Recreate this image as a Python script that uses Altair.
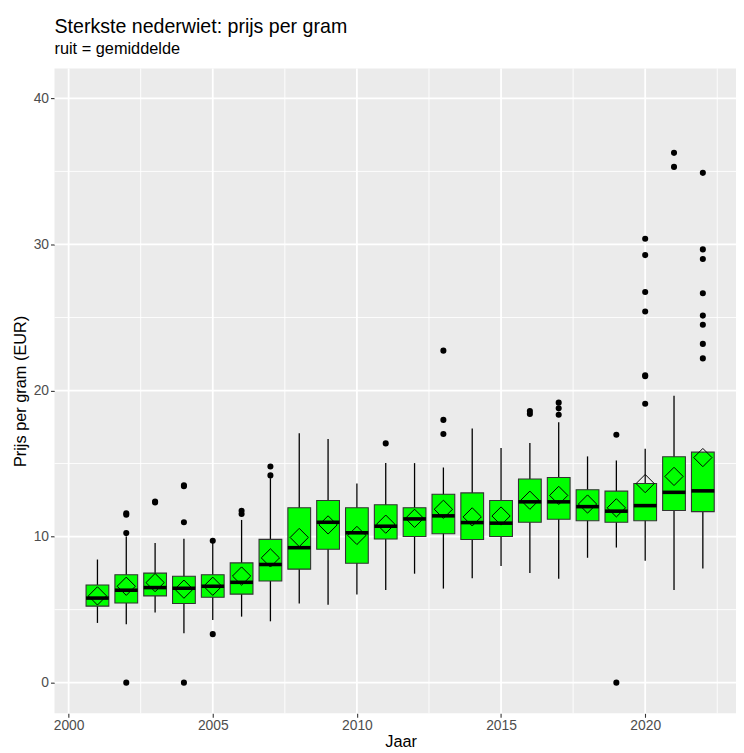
import altair as alt
import pandas as pd

# ---- data ----
years = list(range(2001, 2023))
whisker_low = [4.09, 4.00, 4.81, 3.39, 4.29, 4.52, 4.20, 5.42, 5.33, 6.03, 6.35,
               7.46, 6.44, 7.15, 7.98, 7.51, 7.12, 8.55, 9.25, 8.34, 6.35, 7.82]
q1 = [5.24, 5.45, 5.94, 5.42, 5.85, 6.06, 6.96, 7.77, 9.13, 8.18, 9.83,
      10.01, 10.20, 9.80, 10.01, 10.98, 11.19, 11.09, 10.98, 11.09, 11.79, 11.71]
median = [5.79, 6.33, 6.51, 6.46, 6.60, 6.87, 8.09, 9.24, 10.98, 10.26, 10.71,
          11.21, 11.42, 10.96, 10.92, 12.38, 12.38, 12.05, 11.74, 12.12, 13.03, 13.13]
q3 = [6.69, 7.39, 7.50, 7.28, 7.39, 8.20, 9.81, 11.98, 12.47, 11.98, 12.18,
      11.98, 12.90, 12.99, 12.47, 13.94, 14.04, 13.21, 13.11, 13.63, 15.47, 15.78]
whisker_high = [8.43, 10.0, 9.56, 9.85, 9.60, 11.14, 14.0, 17.08, 16.68, 13.63, 15.03,
                15.03, 14.73, 17.40, 16.07, 16.40, 17.82, 15.49, 15.21, 16.01, 19.64, 15.78]
mean = [5.94, 6.60, 6.85, 6.40, 6.60, 7.30, 8.54, 9.94, 10.80, 10.08, 10.85,
        11.25, 11.87, 11.35, 11.41, 12.49, 12.82, 12.23, 11.97, 13.63, 14.12, 15.41]

outlier_years = [2002, 2002, 2002, 2002,
                 2003, 2003,
                 2004, 2004, 2004, 2004,
                 2005, 2005,
                 2006, 2006,
                 2007, 2007,
                 2011,
                 2013, 2013, 2013,
                 2016, 2016,
                 2017, 2017, 2017,
                 2019, 2019,
                 2020, 2020, 2020, 2020, 2020, 2020, 2020,
                 2021, 2021,
                 2022, 2022, 2022, 2022, 2022, 2022, 2022, 2022]
outlier_values = [0.0, 10.24, 11.50, 11.60,
                  12.34, 12.40,
                  0.0, 10.98, 13.45, 13.51,
                  3.32, 9.72,
                  11.55, 11.77,
                  14.19, 14.80,
                  16.38,
                  17.02, 17.99, 22.73,
                  18.40, 18.60,
                  18.34, 18.78, 19.17,
                  0.0, 16.97,
                  19.09, 20.98, 21.05, 25.41, 26.74, 29.27, 30.39,
                  35.31, 36.27,
                  22.20, 23.19, 24.50, 25.13, 26.66, 29.00, 29.66, 34.90]

major_x = [2000, 2005, 2010, 2015, 2020]
minor_x = [2002.5, 2007.5, 2012.5, 2017.5, 2022.5]
major_y = [0, 10, 20, 30, 40]
minor_y = [5, 15, 25, 35]

# ---- tables ----
box_df = pd.DataFrame({
    "year": years, "lo": whisker_low, "q1": q1, "med": median,
    "q3": q3, "hi": whisker_high, "mean": mean,
})
out_df = pd.DataFrame({"year": outlier_years, "value": outlier_values})
gx_major = pd.DataFrame({"v": major_x})
gx_minor = pd.DataFrame({"v": minor_x})
gy_major = pd.DataFrame({"v": major_y})
gy_minor = pd.DataFrame({"v": minor_y})

FONT = "Liberation Sans"
xscale = alt.Scale(domain=[1999.51, 2023.15], nice=False, zero=False, padding=0)
yscale = alt.Scale(domain=[-2.1, 42.05], nice=False, zero=False, padding=0)

x_axis = alt.Axis(values=major_x, format="d", title="Jaar", grid=False,
                  titleX=350, titleY=34, titleBaseline="alphabetic",
                  titleAnchor="middle", labelPadding=1)
y_axis = alt.Axis(values=major_y, format="d", title="Prijs per gram (EUR)", grid=False,
                  titlePadding=5, labelPadding=2)


def X(field):
    return alt.X(field, scale=xscale, axis=x_axis)


def Y(field):
    return alt.Y(field, scale=yscale, axis=y_axis)


grid_minor_x = alt.Chart(gx_minor).mark_rule(color="white", strokeWidth=0.9).encode(x=X("v:Q"))
grid_minor_y = alt.Chart(gy_minor).mark_rule(color="white", strokeWidth=0.9).encode(y=Y("v:Q"))
grid_major_x = alt.Chart(gx_major).mark_rule(color="white", strokeWidth=1.8).encode(x=X("v:Q"))
grid_major_y = alt.Chart(gy_major).mark_rule(color="white", strokeWidth=1.8).encode(y=Y("v:Q"))

base = alt.Chart(box_df)

whiskers = base.mark_rule(color="black", strokeWidth=1.3).encode(
    x=X("year:Q"), y=Y("lo:Q"), y2="hi:Q")
boxes = base.mark_bar(size=23, fill="#00FF00", stroke="#333333", strokeWidth=1.1).encode(
    x=X("year:Q"), y=Y("q1:Q"), y2="q3:Q")
medians = base.mark_tick(orient="horizontal", size=23, thickness=3.6, color="black",
                         opacity=1).encode(x=X("year:Q"), y=Y("med:Q"))
means = base.mark_point(shape="diamond", size=340, filled=False, color="black",
                        strokeWidth=1.0, opacity=1).encode(x=X("year:Q"), y=Y("mean:Q"))
outliers = alt.Chart(out_df).mark_circle(size=38, color="black", opacity=1).encode(
    x=X("year:Q"), y=Y("value:Q"))

chart = alt.layer(
    grid_minor_x, grid_minor_y, grid_major_x, grid_major_y,
    whiskers, boxes, medians, means, outliers,
).properties(
    width=689,
    height=652,
    autosize=alt.AutoSizeParams(type="none"),
    padding={"left": 47, "top": 57, "right": 0, "bottom": 36},
    title=alt.TitleParams(
        text="Sterkste nederwiet: prijs per gram",
        subtitle="ruit = gemiddelde",
        anchor="start", frame="group",
        font=FONT, fontSize=19.8, fontWeight="normal", color="black",
        subtitleFont=FONT, subtitleFontSize=16.5, subtitleColor="black",
        subtitlePadding=5, offset=10,
    ),
).configure_view(
    fill="#EBEBEB", strokeWidth=0,
).configure_axis(
    domain=False,
    labelFont=FONT, labelFontSize=14, labelColor="#4D4D4D",
    tickColor="#333333", tickSize=4, tickWidth=1.1,
    titleFont=FONT, titleFontSize=16.5, titleFontWeight="normal", titleColor="black",
)

chart.save("out.html", embed_options={"renderer": "svg", "actions": False})
